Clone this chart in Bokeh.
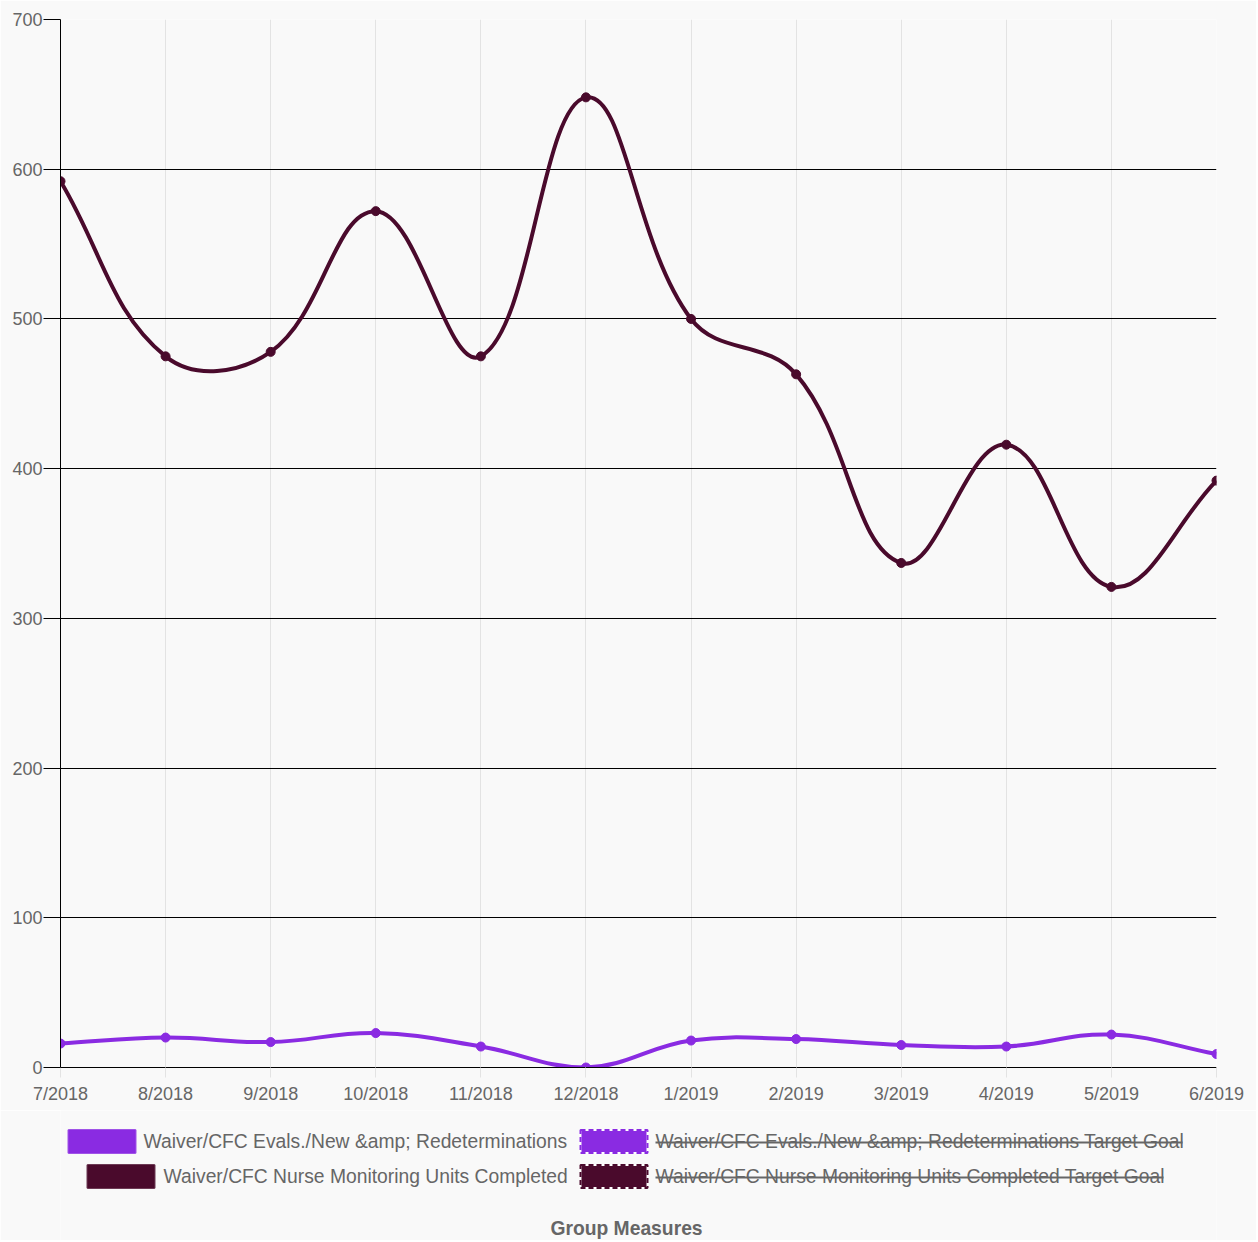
import math
from bokeh.plotting import figure
from bokeh.layouts import column
from bokeh.models import Range1d, FixedTicker
from bokeh.core.properties import value
from bokeh.embed import file_html
from bokeh.resources import INLINE

# ---- data ----
months = ["7/2018", "8/2018", "9/2018", "10/2018", "11/2018", "12/2018",
          "1/2019", "2/2019", "3/2019", "4/2019", "5/2019", "6/2019"]
evals = [16, 20, 17, 23, 14, 0, 18, 19, 15, 14, 22, 9]
nurse = [592, 475, 478, 572, 475, 648, 500, 463, 337, 416, 321, 392]
y_ticks = [0, 100, 200, 300, 400, 500, 600, 700]
legend_labels = ["Waiver/CFC Evals./New &amp; Redeterminations",
                 "Waiver/CFC Evals./New &amp; Redeterminations Target Goal",
                 "Waiver/CFC Nurse Monitoring Units Completed",
                 "Waiver/CFC Nurse Monitoring Units Completed Target Goal"]
title_text = "Group Measures"

PURPLE = "#8A2BE2"
DARK = "#4a0a2c"
GRAY = "#666666"
BG = "#f9f9f9"
FONT = value("Liberation Sans")

FL, FR = 60, 1216          # frame left / right (page px)
FT, FB = 19, 1067          # frame top / bottom (page px)
FW, FH = FR - FL, FB - FT
RB = 40                    # right border
PH = 1110                  # chart figure height
LH = 130                   # legend panel height
YMAX = 700
xs = list(range(len(months)))


def spline_segments(xv, yv, sx, sy, t=0.4, lo=0, hi=YMAX):
    px = [a * sx for a in xv]
    py = [b * sy for b in yv]
    n = len(px)
    prev_cp, next_cp = [], []
    for i in range(n):
        a = i - 1 if i > 0 else i
        c = i + 1 if i < n - 1 else i
        d01 = math.hypot(px[i] - px[a], py[i] - py[a])
        d12 = math.hypot(px[c] - px[i], py[c] - py[i])
        tot = d01 + d12
        s01 = d01 / tot if tot else 0
        s12 = d12 / tot if tot else 0
        fa, fb = t * s01, t * s12
        prev_cp.append((px[i] - fa * (px[c] - px[a]), py[i] - fa * (py[c] - py[a])))
        next_cp.append((px[i] + fb * (px[c] - px[a]), py[i] + fb * (py[c] - py[a])))
    seg = dict(x0=[], y0=[], x1=[], y1=[], cx0=[], cy0=[], cx1=[], cy1=[])
    for i in range(n - 1):
        seg["x0"].append(xv[i]); seg["y0"].append(yv[i])
        seg["x1"].append(xv[i + 1]); seg["y1"].append(yv[i + 1])
        seg["cx0"].append(next_cp[i][0] / sx)
        seg["cy0"].append(min(hi, max(lo, next_cp[i][1] / sy)))
        seg["cx1"].append(prev_cp[i + 1][0] / sx)
        seg["cy1"].append(min(hi, max(lo, prev_cp[i + 1][1] / sy)))
    return seg


p = figure(frame_width=FW, frame_height=FH,
           x_range=Range1d(0, len(months) - 1), y_range=Range1d(0, YMAX),
           output_backend="svg", toolbar_location=None,
           min_border_left=FL, min_border_right=RB, min_border_top=FT,
           min_border_bottom=PH - FB,
           background_fill_color=BG, border_fill_color=BG, outline_line_color=None)

# grids
p.ygrid.grid_line_color = "black"
p.ygrid.grid_line_width = 1
p.ygrid.ticker = FixedTicker(ticks=y_ticks)
p.xgrid.grid_line_color = "#e3e3e3"
p.xgrid.grid_line_width = 1
p.xgrid.ticker = FixedTicker(ticks=xs)

# axes
p.yaxis.ticker = FixedTicker(ticks=y_ticks)
p.yaxis.axis_line_color = "black"
p.yaxis.major_tick_line_color = "black"
p.yaxis.major_tick_out = 17
p.yaxis.major_tick_in = 0
p.yaxis.minor_tick_line_color = None
p.yaxis.major_label_standoff = 1
p.yaxis.major_label_text_font = "Liberation Sans"
p.yaxis.major_label_text_font_size = "18px"
p.yaxis.major_label_text_color = GRAY

p.xaxis.ticker = FixedTicker(ticks=xs)
p.xaxis.major_label_overrides = {i: m for i, m in enumerate(months)}
p.xaxis.axis_line_color = "black"
p.xaxis.major_tick_line_color = "#e3e3e3"
p.xaxis.major_tick_out = 10
p.xaxis.major_tick_in = 0
p.xaxis.minor_tick_line_color = None
p.xaxis.major_label_standoff = 6
p.xaxis.major_label_text_font = "Liberation Sans"
p.xaxis.major_label_text_font_size = "18px"
p.xaxis.major_label_text_color = GRAY

sx = FW / (len(months) - 1)
sy = FH / YMAX
for series, col in ((evals, PURPLE), (nurse, DARK)):
    seg = spline_segments(xs, series, sx, sy)
    p.bezier(x0=seg["x0"], y0=seg["y0"], x1=seg["x1"], y1=seg["y1"],
             cx0=seg["cx0"], cy0=seg["cy0"], cx1=seg["cx1"], cy1=seg["cy1"],
             line_color=col, line_width=4)
    p.scatter(xs, series, size=9, fill_color=col, line_color=col)

# ---- legend + title panel (x in page px, frame aligned with chart frame) ----
q = figure(frame_width=FW, frame_height=LH,
           x_range=Range1d(FL, FR), y_range=Range1d(LH, 0),
           output_backend="svg", toolbar_location=None,
           min_border_left=FL, min_border_right=RB, min_border_top=0, min_border_bottom=0,
           x_axis_location=None, y_axis_location=None,
           background_fill_color=BG, border_fill_color=BG, outline_line_color=None)
q.grid.visible = False

rows_y = [31, 31, 66, 66]
box_left = [68, 580, 87, 580]
text_left = [143, 655, 163, 655]
text_right = [None, 1182, None, 1163]
cols = [PURPLE, PURPLE, DARK, DARK]
dashed = [False, True, False, True]
BW, BH = 67, 23

for lab, yy, bl, tl, tr, c, d in zip(legend_labels, rows_y, box_left, text_left, text_right, cols, dashed):
    if d:
        q.rect(x=[bl + BW / 2], y=[yy], width=BW, height=BH, fill_color=c,
               line_color="white", line_width=2)
        q.rect(x=[bl + BW / 2], y=[yy], width=BW, height=BH, fill_color=None,
               line_color=c, line_width=2, line_dash="5 3")
    else:
        q.rect(x=[bl + BW / 2], y=[yy], width=BW, height=BH, fill_color=c,
               line_color=c, line_alpha=0.8, line_width=2)
    q.text(x=[tl], y=[yy], text=[lab], text_font=FONT, text_font_size="19.3px",
           text_color=GRAY, text_baseline="middle", text_align="left")
    if tr is not None:
        q.segment(x0=[tl], y0=[yy + 1], x1=[tr], y1=[yy + 1], line_color=GRAY, line_width=2)

q.text(x=[626], y=[118], text=[title_text], text_font=FONT, text_font_size="19.3px",
       text_font_style="bold", text_color=GRAY, text_baseline="middle", text_align="center")

layout = column(p, q, spacing=0)
open("out.html", "w").write(file_html(layout, INLINE))
